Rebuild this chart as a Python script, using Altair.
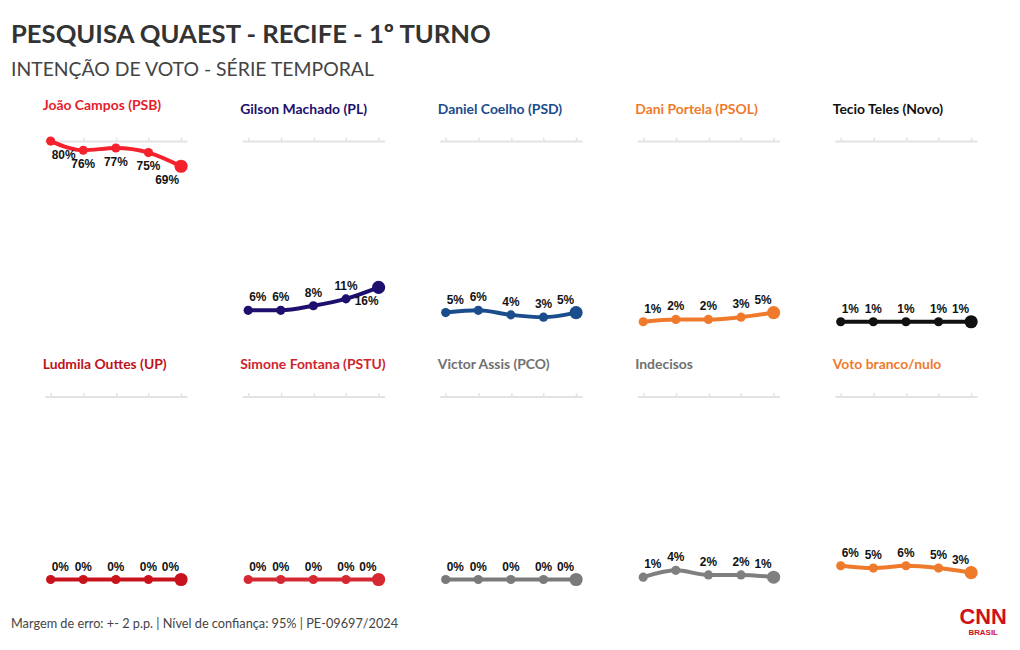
import altair as alt
import pandas as pd

# ---------------- data ----------------
rodadas = [1, 2, 3, 4, 5]
candidatos = [
    "João Campos (PSB)", "Gilson Machado (PL)", "Daniel Coelho (PSD)",
    "Dani Portela (PSOL)", "Tecio Teles (Novo)", "Ludmila Outtes (UP)",
    "Simone Fontana (PSTU)", "Victor Assis (PCO)", "Indecisos", "Voto branco/nulo",
]
joao = [80, 76, 77, 75, 69]
gilson = [6, 6, 8, 11, 16]
daniel = [5, 6, 4, 3, 5]
dani = [1, 2, 2, 3, 5]
tecio = [1, 1, 1, 1, 1]
ludmila = [0, 0, 0, 0, 0]
simone = [0, 0, 0, 0, 0]
victor = [0, 0, 0, 0, 0]
indecisos = [1, 4, 2, 2, 1]
branco = [6, 5, 6, 5, 3]
series = [joao, gilson, daniel, dani, tecio, ludmila, simone, victor, indecisos, branco]

cores = ["#F5222D", "#1C0F6E", "#1B4C8C", "#F07A2C", "#111111",
         "#C8121C", "#D62833", "#7A7A7A", "#7F7F7F", "#F07A2C"]
cores_titulo = ["#E5202C", "#1C0F6E", "#1B4C8C", "#F07A2C", "#111111",
                "#C0111A", "#CE2530", "#707070", "#707070", "#F07A2C"]

titulo = "PESQUISA QUAEST - RECIFE - 1º TURNO"
subtitulo = "INTENÇÃO DE VOTO - SÉRIE TEMPORAL"
rodape = "Margem de erro: +- 2 p.p. | Nível de confiança: 95% | PE-09697/2024"

rows = []
for nome, vals in zip(candidatos, series):
    for r, v in zip(rodadas, vals):
        rows.append({"candidato": nome, "rodada": r, "valor": v})
df = pd.DataFrame(rows)

TITLE_FONT = "Lato"
LABEL_FONT = "Liberation Sans"
PW, PH = 143, 184


def panel(i):
    nome = candidatos[i]
    cor = cores[i]
    base = alt.Chart(df).transform_filter(
        alt.datum.candidato == nome
    ).transform_calculate(
        rotulo="format(datum.valor, 'd') + '%'"
    ).encode(
        x=alt.X("rodada:O",
                scale=alt.Scale(type="point", padding=0.18),
                axis=alt.Axis(orient="top", labels=False, title=None, ticks=True,
                              tickSize=4, tickColor="#e3e3e3", tickWidth=1.5,
                              domainColor="#e3e3e3", domainWidth=2, grid=False)),
        y=alt.Y("valor:Q", scale=alt.Scale(domain=[0, 80]), axis=None),
    )
    line = base.mark_line(color=cor, strokeWidth=4, interpolate="monotone")
    pts = base.mark_circle(color=cor, size=85, opacity=1)
    last = base.transform_filter(alt.datum.rodada == 5).mark_circle(color=cor, size=175, opacity=1)
    dy = 14 if i == 0 else -13
    tstyle = dict(baseline="middle", font=LABEL_FONT, fontWeight="bold",
                  fontSize=12, color="#111111")
    t_first = base.transform_filter(alt.datum.rodada == 1).mark_text(align="left", dx=1, dy=dy, **tstyle).encode(text="rotulo:N")
    t_mid = base.transform_filter((alt.datum.rodada > 1) & (alt.datum.rodada < 5)).mark_text(align="center", dy=dy, **tstyle).encode(text="rotulo:N")
    if i == 1:
        t_last = base.transform_filter(alt.datum.rodada == 5).mark_text(align="right", dx=0, dy=14, **tstyle).encode(text="rotulo:N")
    else:
        t_last = base.transform_filter(alt.datum.rodada == 5).mark_text(align="right", dx=-2, dy=dy, **tstyle).encode(text="rotulo:N")
    return alt.layer(line, pts, last, t_first, t_mid, t_last).properties(
        width=PW, height=PH,
        title=alt.TitleParams(nome, color=cores_titulo[i], anchor="start", fontSize=14,
                              font=TITLE_FONT, fontWeight="bold", offset=20),
    )


grid = alt.concat(*[panel(i) for i in range(10)], columns=5,
                  spacing={"row": 28, "column": 49.7})

one = alt.Data(values=[{}])
header = alt.layer(
    alt.Chart(one).mark_text(align="left", baseline="alphabetic", font=TITLE_FONT,
                             fontWeight="bold", fontSize=25.8, color="#333333").encode(
        x=alt.value(-34), y=alt.value(28), text=alt.value(titulo)),
    alt.Chart(one).mark_text(align="left", baseline="alphabetic", font=TITLE_FONT,
                             fontSize=19.5, color="#444444").encode(
        x=alt.value(-34), y=alt.value(61), text=alt.value(subtitulo)),
).properties(width=900, height=85)

footer = alt.layer(
    alt.Chart(one).mark_text(align="left", baseline="alphabetic", font=TITLE_FONT,
                             fontSize=12.8, color="#444444").encode(
        x=alt.value(-34), y=alt.value(41), text=alt.value(rodape)),
    alt.Chart(one).mark_text(align="center", baseline="alphabetic", font=LABEL_FONT,
                             fontWeight="bold", fontSize=22, color="#D0101B").encode(
        x=alt.value(944), y=alt.value(37), text=alt.value("CNN")),
    alt.Chart(one).mark_text(align="center", baseline="alphabetic", font=LABEL_FONT,
                             fontWeight="bold", fontSize=8, color="#D0101B").encode(
        x=alt.value(944), y=alt.value(48), text=alt.value("BRASIL")),
).properties(width=900, height=52)

chart = alt.vconcat(header, grid, footer, spacing=0).properties(
    padding={"left": 3, "top": 5, "right": 5, "bottom": 5}
).configure_view(stroke=None)

chart.save("out.html", embed_options={"renderer": "svg", "actions": False})
